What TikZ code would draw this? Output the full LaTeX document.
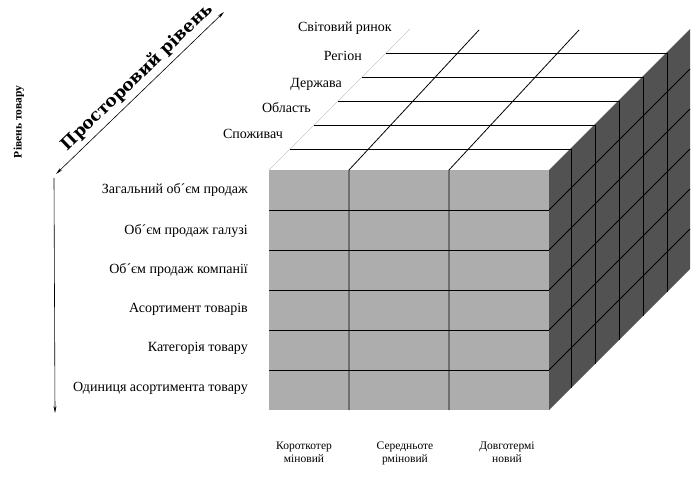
\documentclass[tikz,border=0pt]{standalone}
\usepackage{fontspec}
\setmainfont{Liberation Serif}
\newfontfamily\heavyfont{DejaVu Serif}
\usetikzlibrary{arrows.meta,positioning}

\definecolor{frontgray}{HTML}{ADADAD}
\definecolor{sidegray}{HTML}{525252}
\definecolor{edgegray}{HTML}{C8C8C8}

\begin{document}
\begin{tikzpicture}[x=1pt, y=-1pt, >={Stealth[length=7pt,width=3pt]},
    lvl/.style={anchor=east, font=\fontsize{14}{16}\selectfont, inner sep=0pt},
    term/.style={anchor=north, align=center, font=\fontsize{11.5}{13}\selectfont, inner sep=0pt},
    grid/.style={line width=0.8pt}]
\useasboundingbox (0,0) rectangle (691,478);
% faces of the cube
\fill[white] (269,170) -- (410,29) -- (690,29) -- (549,170) -- cycle;
\fill[frontgray] (269,170) rectangle (549,410);
\fill[sidegray] (549,170) -- (690,29) -- (690,269) -- (549,410) -- cycle;
\draw[edgegray] (269,170) -- (410,29);
% front face
\draw[grid] (269,210) -- (549,210);
\draw[grid] (269,250) -- (549,250);
\draw[grid] (269,290) -- (549,290);
\draw[grid] (269,330) -- (549,330);
\draw[grid] (269,370) -- (549,370);
\draw[grid] (349,410) -- (349,170) -- (479,30);
\draw[grid] (449,410) -- (449,170) -- (579,30);
% top face and right face
\draw[grid] (290,149) -- (571,149) -- (571,388);
\draw[grid] (314,125) -- (595,125) -- (595,364);
\draw[grid] (338,101) -- (619,101) -- (619,340);
\draw[grid] (362,77) -- (643,77) -- (643,316);
\draw[grid] (386,53) -- (667,53) -- (667,292);
\draw[grid] (549,210) -- (690,69);
\draw[grid] (549,250) -- (690,109);
\draw[grid] (549,290) -- (690,149);
\draw[grid] (549,330) -- (690,189);
\draw[grid] (549,370) -- (690,229);
% product levels
\node[lvl] (l1) at (248,190) {Загальний об´єм продаж};
\node[lvl] (l2) at (248,231) {Об´єм продаж галузі};
\node[lvl] (l3) at (248,270) {Об´єм продаж компанії};
\node[lvl] (l4) at (248,309) {Асортимент товарів};
\node[lvl] (l5) at (248,348) {Категорія товару};
\node[lvl] (l6) at (248,388) {Одиниця асортимента товару};
% spatial levels
\node[lvl] (s1) at (283,134) {Споживач};
\node[lvl] (s2) at (311,108) {Область};
\node[lvl] (s3) at (342,84) {Держава};
\node[lvl] (s4) at (362,56) {Регіон};
\node[lvl] (s5) at (392,28) {Світовий ринок};
% terms
\node[term] (t1) at (304,442) {Короткотер\\міновий};
\node[term] (t2) at (405,442) {Середньоте\\рміновий};
\node[term] (t3) at (507,442) {Довготермі\\новий};
% axes
\coordinate (top) at (224,12);
\coordinate (corner) at (56,174);
\coordinate (bottom) at (55,413);
\draw[<->, line width=0.6pt] (corner) -- (top);
\draw[->, line width=0.6pt] (54,178) -- (bottom);
\node[rotate=44, font=\heavyfont\bfseries\fontsize{17}{19}\selectfont, inner sep=0pt] (space) at (137,77) {Просторовий рівень};
\node[rotate=90, font=\bfseries\fontsize{11.5}{13}\selectfont, inner sep=0pt] (prod) at (19,122) {Рівень товару};
\end{tikzpicture}
\end{document}
